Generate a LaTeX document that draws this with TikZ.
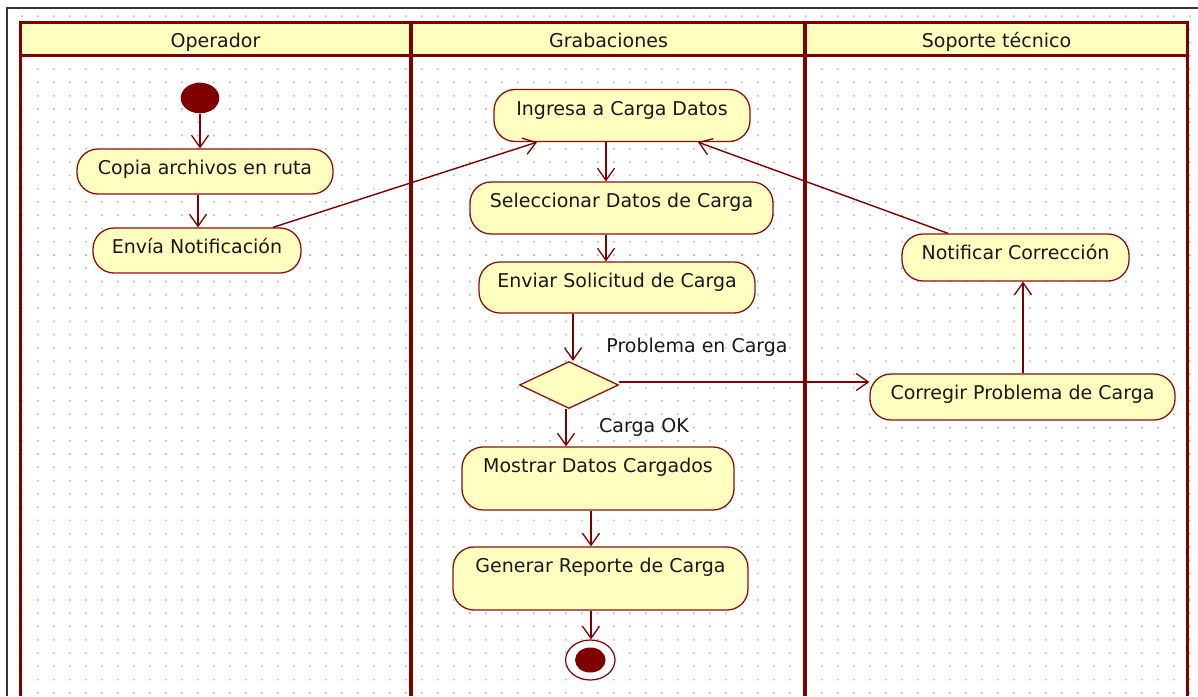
\documentclass[tikz,border=0pt]{standalone}
\usepackage{fontspec}
\setmainfont{DejaVu Sans}
\usetikzlibrary{arrows.meta,shapes.geometric}

\definecolor{lane}{HTML}{800000}
\definecolor{actfill}{HTML}{FFFFC0}
\definecolor{actline}{HTML}{8B1010}
\definecolor{gdot}{HTML}{B8B8B8}
\definecolor{frame}{HTML}{353535}

\tikzset{
  every node/.style={font=\fontsize{19}{22}\selectfont, text=black!90},
  % action state: width, height, text depth (keeps the label near the top)
  activity/.style n args={3}{draw=actline, line width=1.3pt, fill=actfill,
    rounded corners=21pt, minimum width=#1, minimum height=#2,
    inner sep=0pt, text height=14pt, text depth=#3},
  flow/.style={draw=lane, line width=1.4pt,
    -{Straight Barb[length=12pt,width=17pt,line width=1.3pt]}},
  lbl/.style={anchor=base, inner sep=0pt},
  lanewall/.style={draw=lane, line width=3pt},
  lanesep/.style={draw=lane, line width=4.5pt},
}

\begin{document}
\begin{tikzpicture}[x=1pt,y=-1pt]
\useasboundingbox (0,0) rectangle (1198,696);
\fill[white] (0,0) rectangle (1198,696);

% dotted grid
\fill[gdot] \foreach \i in {0,...,73} { \foreach \j in {0,...,51} {
  ({21.0+16*\i},{15.3+13.27*\j}) rectangle ++(1.6,1.6) } };

% outer frame
\draw[frame, line width=2pt] (7,696) -- (7,8) -- (1198,8);

% swimlanes
\draw[lanewall, fill=actfill] (20,22) rectangle (1187,55);
\draw[lanewall] (20,22) -- (20,696);
\draw[lanewall] (1187,22) -- (1187,696);
\draw[lanesep] (411,22) -- (411,696);
\draw[lanesep] (805,22) -- (805,696);
\node[lbl] (hop)  at (215.5,47.7) {Operador};
\node[lbl] (hgr)  at (608.5,47.7) {Grabaciones};
\node[lbl] (hsop) at (996.5,47.7) {Soporte técnico};

% operator lane
\node[ellipse, fill=lane, minimum width=38.6pt, minimum height=30.6pt, inner sep=0pt] (init) at (200,98) {};
\node[activity={256pt}{45pt}{7.3pt}] (copia) at (205,171.5) {Copia archivos en ruta};
\node[activity={208pt}{45pt}{7.3pt}] (envia) at (197,250.5) {Envía Notificación};

% recording lane
\node[activity={256pt}{52pt}{14.3pt}] (ingresa) at (622,115.5) {Ingresa a Carga Datos};
\node[activity={303pt}{52pt}{14.3pt}] (selec) at (621.5,208) {Seleccionar Datos de Carga};
\node[activity={276pt}{51pt}{13.3pt}] (enviar) at (617,287.5) {Enviar Solicitud de Carga};
\node[diamond, draw=actline, line width=1.3pt, fill=actfill, minimum width=99pt,
      minimum height=47pt, inner sep=0pt] (dec) at (569,385) {};
\node[activity={272pt}{63pt}{25.3pt}] (mostrar) at (598,478.5) {Mostrar Datos Cargados};
\node[activity={295pt}{63pt}{25.3pt}] (generar) at (600.5,578.5) {Generar Reporte de Carga};
\node[ellipse, draw=lane, line width=1.2pt, fill=white, minimum width=49.4pt,
      minimum height=40pt, inner sep=0pt] (fin) at (590.3,660) {};
\node[ellipse, fill=lane, minimum width=30.6pt, minimum height=25pt, inner sep=0pt] (fincore) at (fin.center) {};

% support lane
\node[activity={227pt}{47pt}{9.3pt}] (notif) at (1015.5,257.5) {Notificar Corrección};
\node[activity={305pt}{46pt}{8.3pt}] (corregir) at (1022.5,397) {Corregir Problema de Carga};

% guard labels
\node[lbl] (gprob) at (697,352.7) {Problema en Carga};
\node[lbl] (gok)   at (644,432.7) {Carga OK};

% transitions
\draw[flow] (init.south) -- (copia.north -| init.south);
\draw[flow] (copia.south -| 198,0) -- (envia.north -| 198,0);
\draw[flow] (envia.north -| 273,0) -- (ingresa.south -| 537,0);
\draw[flow] (notif.north -| 948,0) -- (ingresa.south -| 698,0);
\draw[flow] (ingresa.south -| 606,0) -- (selec.north -| 606,0);
\draw[flow] (selec.south -| 606,0) -- (enviar.north -| 606,0);
\draw[flow] (enviar.south -| 573,0) -- (dec.north -| 573,0);
\draw[flow] (dec.east |- 0,382) -- (corregir.west |- 0,382);
\draw[flow] (dec.south -| 566,0) -- (mostrar.north -| 566,0);
\draw[flow] (mostrar.south -| 591,0) -- (generar.north -| 591,0);
\draw[flow] (generar.south -| 591,0) -- (fin.north -| 591,0);
\draw[flow] (corregir.north -| 1023,0) -- (notif.south -| 1023,0);
\end{tikzpicture}
\end{document}
